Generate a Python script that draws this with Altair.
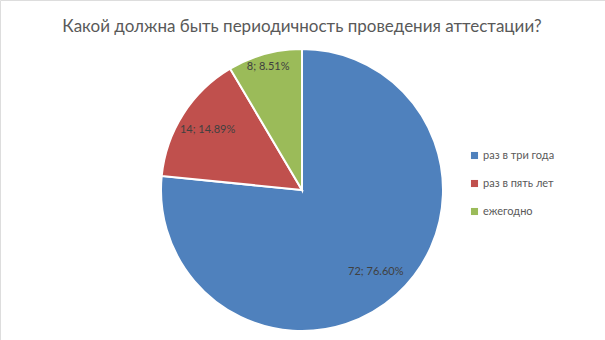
import altair as alt
import pandas as pd

categories = ["раз в три года", "раз в пять лет", "ежегодно"]
counts = [72, 14, 8]
percents = ["76.60%", "14.89%", "8.51%"]
colors = ["#4F81BD", "#C0504D", "#9BBB59"]
label_radius = [110, 112, 128]
title_text = "Какой должна быть периодичность проведения аттестации?"

df = pd.DataFrame({
    "cat": categories,
    "count": counts,
    "order": list(range(len(categories))),
    "label": [f"{c}; {p}" for c, p in zip(counts, percents)],
    "lr": label_radius,
})

FONT = "Lato"
cx, cy = 302, 190

pie = alt.Chart(df).mark_arc(outerRadius=141, stroke="white", strokeWidth=2).encode(
    theta=alt.Theta("count:Q", stack=True),
    order=alt.Order("order:Q"),
    x=alt.value(cx),
    y=alt.value(cy),
    color=alt.Color(
        "cat:N",
        scale=alt.Scale(domain=categories, range=colors),
        legend=alt.Legend(
            title=None,
            orient="none",
            legendX=469,
            legendY=150,
            symbolType="square",
            symbolSize=50,
            symbolStrokeWidth=0,
            labelFontSize=11,
            labelFont=FONT,
            labelColor="#595959",
            rowPadding=16,
            labelOffset=3,
        ),
    ),
)

labels = alt.Chart(df).transform_window(
    cum="sum(count)", sort=[alt.SortField("order")]
).transform_calculate(
    mid="datum.cum - datum.count / 2"
).mark_text(font=FONT, fontSize=11, color="#404040").encode(
    theta=alt.Theta("mid:Q"),
    x=alt.value(cx),
    y=alt.value(cy),
    radius=alt.Radius("lr:Q", scale=None),
    text="label:N",
)

title = alt.Chart(pd.DataFrame({"t": [title_text]})).mark_text(
    font=FONT, fontSize=17, color="#595959"
).encode(x=alt.value(302), y=alt.value(27), text="t:N")

chart = alt.layer(pie, labels, title).properties(
    width=605, height=340, autosize=alt.AutoSizeParams(type="none"), padding=0
).configure_view(stroke="#d9d9d9", strokeWidth=2).configure(background="white")

chart.save("out.html", embed_options={"renderer": "svg", "actions": False})
